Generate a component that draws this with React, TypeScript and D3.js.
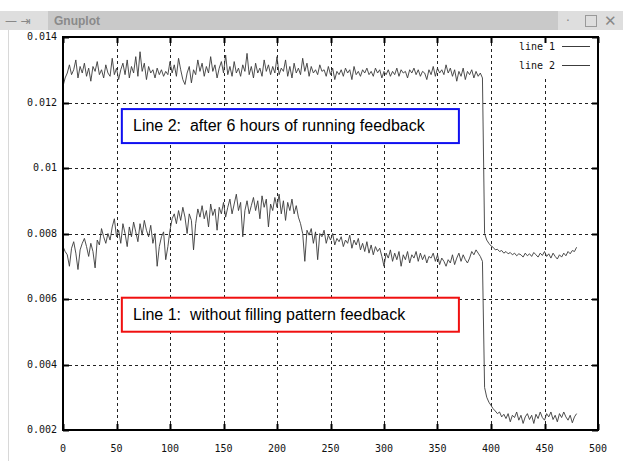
import React, { useEffect, useRef } from "react";
import * as d3 from "d3";

// samples every 2 units along x, from 0 to 480
const step = 2;

const line1 = [
  0.0076, 0.00745, 0.00735, 0.007, 0.00755, 0.00775, 0.0074, 0.0069, 0.0075, 0.0077,
  0.00785, 0.0076, 0.0073, 0.0077, 0.00745, 0.00695, 0.0078, 0.00765, 0.00815, 0.0079,
  0.0077, 0.008, 0.0078, 0.0082, 0.00845, 0.0079, 0.0081, 0.0077, 0.0083, 0.008,
  0.0076, 0.0082, 0.0079, 0.00835, 0.00805, 0.00775, 0.0083, 0.00795, 0.0084, 0.0081,
  0.0079, 0.00825, 0.0077, 0.008, 0.007, 0.0076, 0.0079, 0.00805, 0.0072, 0.0076,
  0.0081, 0.00845, 0.0086, 0.0083, 0.0087, 0.0084, 0.0088, 0.0085, 0.008, 0.0086,
  0.0084, 0.0075, 0.0083, 0.00875, 0.0085, 0.00885, 0.00845, 0.0087, 0.0082, 0.0089,
  0.00855, 0.00875, 0.0081, 0.0088, 0.0086, 0.00895, 0.0085, 0.0088, 0.00905, 0.0086,
  0.0089, 0.0092, 0.0087, 0.00895, 0.0079, 0.0087, 0.009, 0.0086, 0.00885, 0.0091,
  0.0087, 0.009, 0.00845, 0.00915, 0.0088, 0.00905, 0.0082, 0.0089, 0.0087, 0.0091,
  0.0088, 0.0092, 0.0086, 0.009, 0.0084, 0.00895, 0.0087, 0.00905, 0.0086, 0.00885,
  0.0085, 0.0083, 0.008, 0.00715, 0.0081, 0.00795, 0.00815, 0.0077, 0.00805, 0.0072,
  0.008, 0.0079, 0.0081, 0.0077, 0.00795, 0.0078, 0.008, 0.00765, 0.00785, 0.00775,
  0.0079, 0.0076, 0.0078, 0.0077, 0.00795, 0.00755, 0.0078, 0.00765, 0.00785, 0.0075,
  0.0077, 0.00745, 0.00775, 0.0074, 0.00765, 0.00735, 0.0076, 0.00745, 0.00755, 0.0073,
  0.007, 0.0074, 0.00725, 0.0075, 0.00715, 0.0074, 0.0072, 0.00745, 0.007, 0.00735,
  0.0072, 0.00745, 0.0071, 0.00735, 0.00725, 0.00745, 0.00715, 0.0074, 0.0072, 0.00735,
  0.0071, 0.0073, 0.00725, 0.0074, 0.00715, 0.00735, 0.00705, 0.00725, 0.00715, 0.007,
  0.0072, 0.0071, 0.00735, 0.00705, 0.00725, 0.0074, 0.00715, 0.00735, 0.0072, 0.0071,
  0.00725, 0.00745, 0.00735, 0.0075, 0.0074, 0.0073, 0.00715, 0.0033, 0.003, 0.00285,
  0.00275, 0.00265, 0.00258, 0.0025, 0.00255, 0.0024, 0.00248, 0.00235, 0.0025, 0.00225,
  0.00245, 0.00238, 0.00255, 0.0023, 0.00245, 0.0022, 0.0024, 0.0025, 0.00232, 0.00245,
  0.0022, 0.00248, 0.00235, 0.00255, 0.00238, 0.0023, 0.0025, 0.0024, 0.00255, 0.00232,
  0.00245, 0.00225, 0.0025, 0.00238, 0.00255, 0.0024, 0.0023, 0.00245, 0.00222, 0.0024,
  0.0025,
];

const line2 = [
  0.0125, 0.01275, 0.0129, 0.01315, 0.01285, 0.013, 0.0133, 0.01275, 0.0131, 0.0129,
  0.0132, 0.0128, 0.01305, 0.01265, 0.0131, 0.01295, 0.01325, 0.01285, 0.013, 0.01275,
  0.01315, 0.0129, 0.0128, 0.01335, 0.01285, 0.01305, 0.0127, 0.013, 0.0132, 0.01285,
  0.0133, 0.01275, 0.0131, 0.0129, 0.0134, 0.0128, 0.01355, 0.01295, 0.0132, 0.0127,
  0.0131, 0.0129, 0.013, 0.01275, 0.01305, 0.01285, 0.013, 0.0128, 0.01295, 0.01285,
  0.01325, 0.0129, 0.01315, 0.0128, 0.01335, 0.013, 0.0127, 0.01255, 0.0129, 0.0131,
  0.0126, 0.013, 0.01285, 0.0133, 0.01295, 0.0132, 0.0128, 0.0131, 0.0129, 0.0134,
  0.01295, 0.01315, 0.01275, 0.01305, 0.01325, 0.0129, 0.01345, 0.01285, 0.0131, 0.0128,
  0.01325, 0.0129, 0.01305, 0.0128, 0.01315, 0.01295, 0.0135, 0.01285, 0.0131, 0.01275,
  0.0132, 0.0129, 0.01305, 0.0128, 0.0133, 0.01295, 0.01315, 0.01285, 0.0131, 0.0129,
  0.0134, 0.01285, 0.01305, 0.01295, 0.0133, 0.0128, 0.0131, 0.01275, 0.0132, 0.0129,
  0.01305, 0.01285, 0.01335, 0.01295, 0.0132, 0.0128, 0.0131, 0.0129, 0.013, 0.01285,
  0.01315, 0.01295, 0.013, 0.0128, 0.0131, 0.01285, 0.01305, 0.0127, 0.01295, 0.01285,
  0.013, 0.0128, 0.01305, 0.0129, 0.013, 0.0127, 0.0131, 0.01285, 0.01295, 0.0128,
  0.013, 0.0129, 0.01305, 0.01285, 0.01295, 0.0128, 0.01305, 0.0129, 0.013, 0.01275,
  0.01295, 0.01285, 0.013, 0.0128, 0.01295, 0.01285, 0.01305, 0.0128, 0.013, 0.0129,
  0.01295, 0.01275, 0.013, 0.0129, 0.01305, 0.01285, 0.013, 0.0128, 0.01295, 0.0129,
  0.0127, 0.013, 0.01285, 0.0131, 0.0128, 0.01305, 0.0129, 0.013, 0.01285, 0.01315,
  0.0129, 0.01305, 0.0128, 0.013, 0.01265, 0.01295, 0.0128, 0.01305, 0.0127, 0.01295,
  0.01285, 0.013, 0.01275, 0.01295, 0.0128, 0.0129, 0.01275, 0.008, 0.0078, 0.0077,
  0.00762, 0.00758, 0.0075, 0.00752, 0.00745, 0.00748, 0.0074, 0.00745, 0.00738, 0.00742,
  0.00735, 0.0074, 0.00732, 0.00738, 0.00735, 0.00728, 0.0074, 0.00732, 0.00738, 0.0073,
  0.00742, 0.00735, 0.00728, 0.0074, 0.00733, 0.00745, 0.0073, 0.00738, 0.00725, 0.0074,
  0.0073, 0.00722, 0.00735, 0.00728, 0.0074, 0.00732, 0.00745, 0.00738, 0.00748, 0.00745,
  0.00758,
];

const xTicks = [0, 50, 100, 150, 200, 250, 300, 350, 400, 450, 500];
const yTicks = [0.002, 0.004, 0.006, 0.008, 0.01, 0.012, 0.014];
const legendLabels = ["line 1", "line 2"];
const notes = [
  { text: "Line 2:  after 6 hours of running feedback", color: "#1010f0", value: 0.01128 },
  { text: "Line 1:  without filling pattern feedback", color: "#f01010", value: 0.00552 },
];

const App = () => {
  const svgRef = useRef(null);

  useEffect(() => {
    const svg = d3.select(svgRef.current);
    svg.selectAll("*").remove();

    const left = 63;
    const right = 598;
    const top = 37;
    const bottom = 430;
    const x = d3.scaleLinear().domain([0, 500]).range([left, right]);
    const y = d3.scaleLinear().domain([0.002, 0.014]).range([bottom, top]);
    const mono = "'DejaVu Sans Mono', monospace";

    // window chrome
    svg.append("rect").attr("width", 623).attr("height", 461).attr("fill", "#fff");
    svg.append("rect").attr("x", 0).attr("y", 11).attr("width", 623).attr("height", 19).attr("fill", "#dedede");
    svg.append("rect").attr("x", 48).attr("y", 11).attr("width", 510).attr("height", 19).attr("fill", "#c9c9c9");
    svg.append("line").attr("x1", 8.5).attr("x2", 8.5).attr("y1", 30).attr("y2", 461).attr("stroke", "#d8d8d8");
    svg.append("text").attr("x", 5).attr("y", 25).attr("font-size", 12).attr("fill", "#888").attr("font-family", "DejaVu Sans").text("— ⇥");
    svg.append("text").attr("x", 54).attr("y", 25).attr("font-size", 12).attr("font-weight", "bold").attr("fill", "#8a8a8a").attr("font-family", "Liberation Sans").text("Gnuplot");
    svg.append("text").attr("x", 566).attr("y", 25).attr("font-size", 12).attr("fill", "#888").attr("font-family", "DejaVu Sans").text("·");
    svg.append("rect").attr("x", 585.5).attr("y", 15.5).attr("width", 11).attr("height", 11).attr("fill", "none").attr("stroke", "#999");
    svg.append("text").attr("x", 604).attr("y", 26).attr("font-size", 15).attr("fill", "#888").attr("font-family", "DejaVu Sans").text("✕");

    // grid
    const grid = svg.append("g").attr("stroke", "#222").attr("stroke-dasharray", "3,3").attr("shape-rendering", "crispEdges");
    xTicks.slice(1, -1).forEach((t) => {
      grid.append("line").attr("x1", Math.round(x(t)) + 0.5).attr("x2", Math.round(x(t)) + 0.5).attr("y1", top).attr("y2", bottom);
    });
    yTicks.slice(1, -1).forEach((t) => {
      grid.append("line").attr("x1", left).attr("x2", right).attr("y1", Math.round(y(t)) + 0.5).attr("y2", Math.round(y(t)) + 0.5);
    });

    // key area is cleared
    svg.append("rect").attr("x", 505).attr("y", top + 2).attr("width", right - 507).attr("height", 38).attr("fill", "#fff");

    // ticks
    const ticks = svg.append("g").attr("stroke", "#000").attr("stroke-width", 2);
    xTicks.forEach((t) => {
      const px = Math.round(x(t)) + 0.5;
      ticks.append("line").attr("x1", px).attr("x2", px).attr("y1", bottom).attr("y2", bottom - 6);
      ticks.append("line").attr("x1", px).attr("x2", px).attr("y1", top).attr("y2", top + 6);
    });
    yTicks.forEach((t) => {
      const py = Math.round(y(t)) + 0.5;
      ticks.append("line").attr("x1", left).attr("x2", left + 6).attr("y1", py).attr("y2", py);
      ticks.append("line").attr("x1", right).attr("x2", right - 6).attr("y1", py).attr("y2", py);
    });

    // series
    const lineGen = d3
      .line<number>()
      .x((_, i) => x(i * step))
      .y((d) => y(d));
    [line1, line2].forEach((s) => {
      svg.append("path").attr("d", lineGen(s)).attr("fill", "none").attr("stroke", "#3a3a3a").attr("stroke-width", 0.9);
    });

    // border
    svg.append("rect").attr("x", left).attr("y", top).attr("width", right - left).attr("height", bottom - top)
      .attr("fill", "none").attr("stroke", "#000").attr("stroke-width", 2);

    // tick labels
    xTicks.forEach((t) => {
      svg.append("text").attr("x", x(t)).attr("y", bottom + 22).attr("text-anchor", "middle")
        .attr("font-family", mono).attr("font-size", 10).attr("fill", "#111").text(String(t));
    });
    yTicks.forEach((t) => {
      svg.append("text").attr("x", left - 6).attr("y", y(t) + 3).attr("text-anchor", "end")
        .attr("font-family", mono).attr("font-size", 10).attr("fill", "#111").text(d3.format("")(t));
    });

    // key
    legendLabels.forEach((l, i) => {
      const ly = 50 + i * 19;
      svg.append("text").attr("x", 555).attr("y", ly).attr("text-anchor", "end")
        .attr("font-family", mono).attr("font-size", 10).attr("fill", "#111").text(l);
      svg.append("line").attr("x1", 562).attr("x2", 590).attr("y1", ly - 3.5).attr("y2", ly - 3.5).attr("stroke", "#3c3c3c");
    });

    // annotation boxes
    notes.forEach((n) => {
      const cy = y(n.value);
      svg.append("rect").attr("x", x(55)).attr("y", cy - 17).attr("width", x(370) - x(55)).attr("height", 34)
        .attr("fill", "#fff").attr("stroke", n.color).attr("stroke-width", 2);
      svg.append("text").attr("x", 133).attr("y", cy + 5).attr("font-family", "Liberation Sans, Arial")
        .attr("font-size", 16).attr("fill", "#000").style("white-space", "pre").text(n.text);
    });
  }, []);

  return (
    <svg
      ref={svgRef}
      width={623}
      height={461}
      style={{ position: "absolute", left: 0, top: 0, background: "#fff" }}
    ></svg>
  );
};

export default App;
